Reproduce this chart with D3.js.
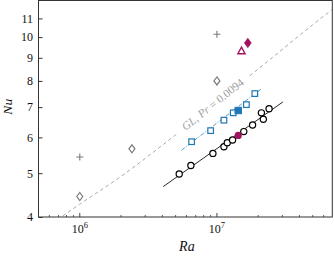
<!DOCTYPE html>
<html><head><meta charset="utf-8">
<script src="https://cdn.jsdelivr.net/npm/d3@7"></script>
<style>body{margin:0;background:#fff} svg{display:block}</style>
</head><body><svg id="c" width="334" height="256"></svg>
<script>
// ---- data ----
const raBlack = [5.31e6, 6.46e6, 9.35e6, 1.125e7, 1.19e7, 1.30e7, 1.57e7, 1.82e7, 2.18e7, 2.11e7, 2.40e7];
const nuBlack = [4.98, 5.20, 5.53, 5.72, 5.84, 5.92, 6.18, 6.39, 6.58, 6.80, 6.94];
const raBlue = [6.54e6, 9.0e6, 1.125e7, 1.315e7, 1.64e7, 1.89e7];
const nuBlue = [5.87, 6.21, 6.55, 6.80, 7.09, 7.50];
const raBlueFilled = [1.43e7];
const nuBlueFilled = [6.88];
const raMagCircle = [1.43e7];
const nuMagCircle = [6.06];
const raMagDiamond = [1.68e7];
const nuMagDiamond = [9.71];
const raMagTriangle = [1.51e7];
const nuMagTriangle = [9.32];
const raGrayPlus = [1e6, 1e7];
const nuGrayPlus = [5.43, 10.15];
const raGrayDiamond = [1e6, 2.40e6, 1e7];
const nuGrayDiamond = [4.44, 5.66, 8.0];
const raGL = [7.5e5, 1e6, 2e6, 5e6, 1e7, 2e7, 5e7, 6.9e7];
const nuGL = [4.02, 4.27, 4.92, 6.08, 7.19, 8.50, 10.65, 11.5];
const raBlackFit = [4.06e6, 3.03e7];
const nuBlackFit = [4.67, 7.19];
const raBlueFit = [5.52e6, 2.13e7];
const nuBlueFit = [5.62, 7.70];
const yTicks = [4, 5, 6, 7, 8, 9, 10, 11];
const xMajor = [1e6, 1e7];
const xMajorExp = ["6", "7"];
const glLabel = {ra: 9.3e6, nu: 7.10};

// ---- chart ----
const svg = d3.select("#c");
const L = 38.5, R = 332.3, T = 0.5, B = 217;
const x = d3.scaleLog().domain([5e5, 6.94e7]).range([L, R]);
const y = d3.scaleLog().domain([4, 12.05]).range([B, T]);
const font = "'Liberation Serif', 'DejaVu Serif', serif";
const zip = (a, b) => a.map((v, i) => [v, b[i]]);

const BLUE = "#1f77b4", MAG = "#a2115e", GRAY = "#7a7a7a";

// mask for GL label gap
const lx = x(glLabel.ra), ly = y(glLabel.nu);
const ang = -38.5;
const defs = svg.append("defs");
const mask = defs.append("mask").attr("id", "glmask");
mask.append("rect").attr("x", 0).attr("y", 0).attr("width", 334).attr("height", 256).attr("fill", "#fff");
mask.append("rect").attr("x", -45).attr("y", -7).attr("width", 90).attr("height", 14)
  .attr("fill", "#000").attr("transform", `translate(${lx},${ly}) rotate(${ang})`);
defs.append("clipPath").attr("id", "plotclip").append("rect")
  .attr("x", L).attr("y", T).attr("width", R - L).attr("height", B - T);

const plot = svg.append("g").attr("clip-path", "url(#plotclip)");

const line = d3.line().x(d => x(d[0])).y(d => y(d[1])).curve(d3.curveMonotoneX);

plot.append("path").datum(zip(raGL, nuGL)).attr("d", line)
  .attr("fill", "none").attr("stroke", "#a8a8a8").attr("stroke-width", 1)
  .attr("stroke-dasharray", "3.5,3").attr("mask", "url(#glmask)");

plot.append("path").datum(zip(raBlackFit, nuBlackFit)).attr("d", line)
  .attr("fill", "none").attr("stroke", "#111").attr("stroke-width", 0.9);

plot.append("path").datum(zip(raBlueFit, nuBlueFit)).attr("d", line)
  .attr("fill", "none").attr("stroke", "#3a8cc4").attr("stroke-width", 0.9)
  .attr("stroke-dasharray", "4,1.5,1,1.5");

// label
const t = svg.append("text").attr("transform", `translate(${lx},${ly}) rotate(${ang})`)
  .attr("text-anchor", "middle").attr("dominant-baseline", "central")
  .attr("font-family", font).attr("font-size", 11.5).attr("fill", "#a0a0a0");
t.append("tspan").attr("font-style", "italic").text("GL");
t.append("tspan").text(", ");
t.append("tspan").attr("font-style", "italic").text("Pr");
t.append("tspan").text(" = 0.0094");

// markers
const diamondPath = (w, h) => `M0,${-h/2}L${w/2},0L0,${h/2}L${-w/2},0Z`;

plot.selectAll(".gp").data(zip(raGrayPlus, nuGrayPlus)).join("path")
  .attr("transform", d => `translate(${x(d[0])},${y(d[1])})`)
  .attr("d", "M-3.5,0H3.5M0,-3.5V3.5").attr("stroke", GRAY).attr("stroke-width", 1.1).attr("fill", "none");

plot.selectAll(".gd").data(zip(raGrayDiamond, nuGrayDiamond)).join("path")
  .attr("transform", d => `translate(${x(d[0])},${y(d[1])})`)
  .attr("d", diamondPath(6, 8)).attr("stroke", GRAY).attr("stroke-width", 1.2).attr("fill", "#fff");

plot.selectAll(".bc").data(zip(raBlack, nuBlack)).join("circle")
  .attr("cx", d => x(d[0])).attr("cy", d => y(d[1])).attr("r", 3.1)
  .attr("stroke", "#000").attr("stroke-width", 1.2).attr("fill", "#fff");

plot.selectAll(".bs").data(zip(raBlue, nuBlue)).join("rect")
  .attr("x", d => x(d[0]) - 2.8).attr("y", d => y(d[1]) - 2.8).attr("width", 5.6).attr("height", 5.6)
  .attr("stroke", BLUE).attr("stroke-width", 1.2).attr("fill", "#fff");

plot.selectAll(".bsf").data(zip(raBlueFilled, nuBlueFilled)).join("rect")
  .attr("x", d => x(d[0]) - 3.2).attr("y", d => y(d[1]) - 3.2).attr("width", 6.4).attr("height", 6.4)
  .attr("stroke", BLUE).attr("stroke-width", 1).attr("fill", BLUE);

plot.selectAll(".mc").data(zip(raMagCircle, nuMagCircle)).join("circle")
  .attr("cx", d => x(d[0])).attr("cy", d => y(d[1])).attr("r", 3.6)
  .attr("fill", MAG);

plot.selectAll(".md").data(zip(raMagDiamond, nuMagDiamond)).join("path")
  .attr("transform", d => `translate(${x(d[0])},${y(d[1])})`)
  .attr("d", diamondPath(7, 9.5)).attr("fill", MAG).attr("stroke", MAG).attr("stroke-width", 0.6);

plot.selectAll(".mt").data(zip(raMagTriangle, nuMagTriangle)).join("path")
  .attr("transform", d => `translate(${x(d[0])},${y(d[1])})`)
  .attr("d", "M0,-3.8L3.6,2.8L-3.6,2.8Z").attr("fill", "#fff").attr("stroke", MAG).attr("stroke-width", 1.4);

// axes frame
svg.append("rect").attr("x", L).attr("y", T).attr("width", R - L).attr("height", B - T)
  .attr("fill", "none").attr("stroke", "#333").attr("stroke-width", 1);

// y axis
const yAx = svg.append("g").attr("transform", `translate(${L},0)`)
  .call(d3.axisLeft(y).tickValues(yTicks).tickSize(-4).tickPadding(5.5).tickFormat(d3.format("d")));
yAx.select(".domain").remove();
yAx.selectAll("line").attr("stroke", "#333");
yAx.selectAll("text").attr("font-family", font).attr("font-size", 12).attr("fill", "#111");

// x axis ticks
const xMinor = x.ticks().filter(v => !xMajor.includes(v));
const xAx = svg.append("g").attr("transform", `translate(0,${B})`);
xAx.selectAll(".mn").data(xMinor).join("line")
  .attr("x1", d => x(d)).attr("x2", d => x(d)).attr("y1", 0).attr("y2", -2).attr("stroke", "#333").attr("stroke-width", 0.8);
xAx.selectAll(".mj").data(xMajor).join("line")
  .attr("x1", d => x(d)).attr("x2", d => x(d)).attr("y1", 0).attr("y2", -4).attr("stroke", "#333").attr("stroke-width", 0.9);
const xl = xAx.selectAll(".lb").data(xMajor).join("text")
  .attr("x", d => x(d)).attr("y", 16).attr("text-anchor", "middle")
  .attr("font-family", font).attr("font-size", 12).attr("fill", "#111");
xl.append("tspan").text("10");
xl.append("tspan").attr("dy", -5).attr("font-size", 8.5).text((d, i) => xMajorExp[i]);

// axis titles
svg.append("text").attr("x", (L + R) / 2 + 1.5).attr("y", 251).attr("text-anchor", "middle")
  .attr("font-family", font).attr("font-style", "italic").attr("font-size", 14).attr("fill", "#111").text("Ra");
svg.append("text").attr("transform", `translate(12,${(T + B) / 2 - 2}) rotate(-90)`).attr("text-anchor", "middle")
  .attr("font-family", font).attr("font-style", "italic").attr("font-size", 13.5).attr("fill", "#111").text("Nu");
</script></body></html>
